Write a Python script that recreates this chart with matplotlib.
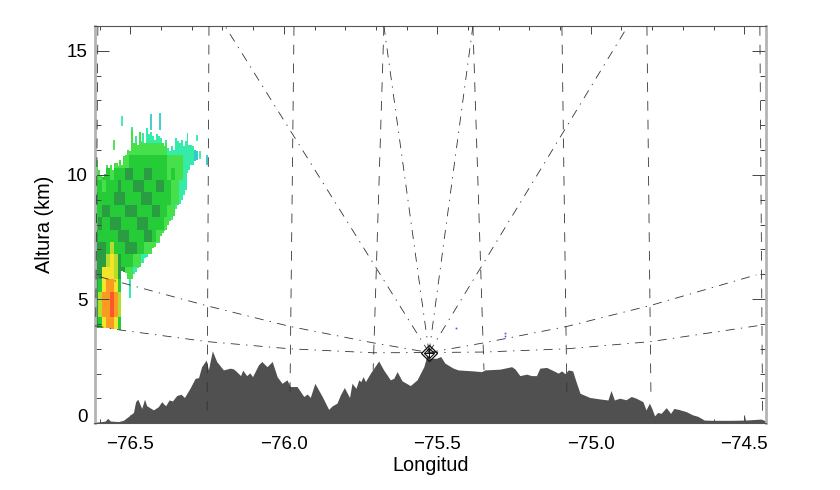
import numpy as np
import matplotlib
matplotlib.use("Agg")
import matplotlib.pyplot as plt
from matplotlib.colors import ListedColormap, BoundaryNorm
from matplotlib.ticker import MultipleLocator

plt.rcParams['font.family'] = ['Liberation Sans', 'DejaVu Sans']
plt.rcParams['lines.scale_dashes'] = False

# terrain profile
terrain_lon = [-76.617, -76.593, -76.582, -76.574, -76.565, -76.539, -76.523, -76.506, -76.490, -76.483,
               -76.476, -76.468, -76.463, -76.454, -76.447, -76.425, -76.409, -76.398, -76.390, -76.385,
               -76.374, -76.363, -76.349, -76.335, -76.324, -76.306, -76.289, -76.278, -76.268, -76.253,
               -76.246, -76.233, -76.219, -76.197, -76.175, -76.164, -76.154, -76.141, -76.134, -76.121,
               -76.111, -76.102, -76.083, -76.072, -76.055, -76.038, -76.022, -76.006, -75.990, -75.979,
               -75.957, -75.935, -75.924, -75.914, -75.899, -75.875, -75.854, -75.843, -75.827, -75.816,
               -75.803, -75.786, -75.778, -75.765, -75.756, -75.749, -75.742, -75.734, -75.718, -75.691,
               -75.675, -75.653, -75.642, -75.631, -75.615, -75.588, -75.566, -75.544, -75.533, -75.524,
               -75.502, -75.489, -75.475, -75.448, -75.432, -75.383, -75.356, -75.345, -75.296, -75.258,
               -75.247, -75.231, -75.209, -75.193, -75.177, -75.166, -75.144, -75.122, -75.106, -75.095,
               -75.084, -75.073, -75.059, -75.048, -75.035, -75.003, -74.970, -74.944, -74.934, -74.923,
               -74.906, -74.885, -74.868, -74.852, -74.830, -74.820, -74.809, -74.801, -74.792, -74.782,
               -74.771, -74.754, -74.740, -74.729, -74.711, -74.689, -74.668, -74.651, -74.630, -74.602,
               -74.543, -74.501, -74.499, -74.496, -74.445, -74.429]
terrain_km = [0.04, 0.07, 0.09, 0.20, 0.09, 0.07, 0.12, 0.28, 0.44, 0.87,
              0.97, 0.74, 0.60, 0.97, 0.71, 0.54, 0.67, 0.87, 0.76, 0.71,
              0.94, 0.90, 1.12, 1.17, 1.04, 1.41, 1.81, 1.84, 2.28, 2.55,
              2.15, 2.92, 2.49, 2.15, 2.22, 2.19, 2.08, 1.92, 2.14, 1.92,
              2.03, 1.88, 2.35, 2.49, 2.28, 2.49, 1.88, 1.61, 1.75, 1.48,
              1.48, 1.08, 1.18, 1.04, 1.61, 1.08, 0.56, 0.70, 0.81, 1.14,
              1.44, 1.04, 1.61, 1.41, 1.75, 1.68, 1.88, 1.68, 2.02, 2.51,
              2.15, 1.75, 1.81, 2.08, 1.71, 1.52, 1.75, 2.28, 2.76, 2.62,
              2.62, 2.69, 2.42, 2.22, 2.15, 2.11, 2.08, 2.15, 2.18, 2.28,
              2.19, 1.92, 1.98, 1.92, 1.92, 2.22, 2.25, 2.12, 2.02, 2.11,
              2.00, 2.15, 2.11, 1.68, 1.21, 1.04, 0.98, 0.94, 1.32, 0.94,
              1.01, 0.95, 1.08, 1.01, 0.87, 0.54, 0.81, 0.60, 0.30, 0.44,
              0.40, 0.63, 0.40, 0.60, 0.55, 0.47, 0.34, 0.28, 0.13, 0.12,
              0.12, 0.13, 0.30, 0.13, 0.17, 0.09]

# radar site
radar_lon = -75.527
radar_km = 2.85

# reflectivity classes per block, top row first
field_rows = [
    [3, 3, 3, 3, 3, 3, 3, 3, 3, 2, 2, 2, 2, 2, 2, 2, 2, 2, 2, 2, 2, 2, 2, 2, 2, 2, 1],
    [3, 3, 3, 3, 3, 3, 3, 3, 3, 3, 2, 3, 2, 2, 2, 2, 2, 2, 2, 2, 2, 2, 2, 2, 2, 2, 1],
    [3, 3, 3, 3, 3, 3, 3, 3, 3, 3, 3, 3, 3, 3, 3, 3, 3, 3, 3, 2, 2, 2, 2, 2, 2, 2, 1],
    [3, 3, 3, 3, 3, 3, 3, 3, 3, 4, 4, 4, 4, 4, 4, 4, 4, 4, 4, 3, 3, 3, 3, 2, 2, 2, 1],
    [3, 3, 4, 4, 3, 4, 4, 4, 5, 5, 4, 4, 4, 5, 5, 4, 4, 4, 4, 3, 4, 3, 3, 2, 2, 2, 1],
    [4, 4, 3, 4, 4, 4, 5, 4, 4, 4, 5, 5, 5, 4, 4, 4, 5, 5, 4, 4, 3, 3, 2, 2, 2, 2, 1],
    [5, 4, 4, 4, 4, 5, 5, 5, 4, 4, 4, 4, 5, 5, 5, 4, 4, 4, 4, 4, 3, 3, 2, 2, 2, 2, 1],
    [4, 4, 5, 5, 4, 4, 4, 4, 5, 5, 5, 4, 4, 4, 4, 5, 5, 4, 4, 3, 3, 2, 2, 2, 2, 2, 1],
    [4, 5, 4, 4, 5, 5, 5, 4, 4, 4, 4, 5, 5, 5, 4, 4, 4, 4, 3, 3, 2, 2, 2, 2, 2, 2, 1],
    [5, 4, 4, 4, 4, 4, 5, 5, 5, 4, 4, 4, 4, 5, 5, 4, 3, 3, 2, 2, 2, 2, 2, 2, 2, 2, 1],
    [5, 5, 5, 4, 6, 4, 4, 4, 5, 5, 5, 4, 4, 3, 3, 3, 2, 2, 2, 2, 2, 2, 2, 2, 2, 2, 1],
    [5, 5, 5, 6, 7, 6, 5, 4, 4, 4, 3, 3, 2, 2, 2, 2, 2, 2, 2, 2, 2, 2, 2, 2, 2, 2, 1],
    [5, 5, 7, 7, 7, 6, 5, 5, 3, 3, 2, 2, 2, 2, 2, 2, 2, 2, 2, 2, 2, 2, 2, 2, 2, 2, 1],
    [5, 4, 7, 8, 8, 7, 4, 2, 2, 2, 2, 2, 2, 2, 2, 2, 2, 2, 2, 2, 2, 2, 2, 2, 2, 2, 1],
    [5, 6, 8, 8, 9, 8, 6, 2, 2, 2, 2, 2, 2, 2, 2, 2, 2, 2, 2, 2, 2, 2, 2, 2, 2, 2, 1],
    [5, 6, 8, 8, 9, 8, 6, 2, 2, 2, 2, 2, 2, 2, 2, 2, 2, 2, 2, 2, 2, 2, 2, 2, 2, 2, 1],
    [5, 4, 7, 8, 8, 7, 4, 2, 2, 2, 2, 2, 2, 2, 2, 2, 2, 2, 2, 2, 2, 2, 2, 2, 2, 2, 1],
]
field_colors = ['#ffffff', '#35c8cc', '#35eba8', '#45e04a', '#25cc38', '#2a9c42',
                '#b5dd2a', '#f2e52a', '#fb9a22', '#f9582a']
field_lon_start = -76.617
field_lon_step = 0.0125
field_km_top = 12.3
field_km_step = 0.5

# top and bottom of the echo in each narrow column
echo_lon_step = 0.00625
echo_top_km = [10.15, 10.62, 10.19, 10.01, 9.88, 10.05, 10.42, 10.28, 10.38, 10.22, 10.48, 10.48, 10.35, 10.59,
               10.42, 10.73, 10.82, 11.02, 10.95, 11.96, 11.29, 11.56, 11.22, 11.76, 11.36, 11.69, 11.29, 11.90,
               11.63, 11.76, 11.56, 11.42, 11.63, 11.56, 11.49, 11.29, 11.16, 11.42, 11.09, 10.95, 11.16, 11.02,
               11.49, 11.36, 11.29, 11.42, 11.16, 11.36, 11.69, 11.22, 11.22, 11.16, 11.02, 10.95]
echo_bottom_km = [3.87, 3.87, 3.86, 3.86, 3.84, 3.84, 3.83, 3.83, 3.82, 3.82, 3.80, 3.79, 3.78, 3.76,
                  6.16, 6.12, 6.05, 5.78, 5.04, 5.78, 6.02, 6.12, 6.25, 6.32, 6.45, 6.45, 6.65, 6.72,
                  6.79, 6.79, 7.06, 7.12, 7.26, 7.26, 7.53, 7.66, 7.77, 7.80, 8.00, 8.13, 8.20, 8.33,
                  8.67, 8.80, 8.87, 9.01, 9.21, 9.41, 10.08, 10.22, 10.42, 10.42, 10.55, 10.62]

# isolated thin echoes above the main body
spike_lon = [-76.552, -76.526, -76.434, -76.405, -76.284, -76.273, -76.251]
spike_low = [11.02, 11.96, 11.83, 11.83, 11.36, 10.65, 10.42]
spike_high = [11.42, 12.37, 12.47, 12.50, 11.63, 10.95, 10.82]
spike_class = [3, 2, 1, 1, 2, 2, 1]

# small blue echoes east of the radar
speck_lon = [-75.44, -75.28, -75.28]
speck_km = [3.84, 3.50, 3.62]

# constant elevation rays, straight up to the top of the plot
ray_top_lon = [-76.192, -75.674, -75.384, -74.879]
ray_top_km = [16, 16, 16, 16]

# curved low elevation rays
low_west_lon = [-76.617, -76.535, -76.250, -75.980, -75.709, -75.527]
low_west_km = [3.93, 3.76, 3.29, 3.00, 2.84, 2.85]
high_west_lon = [-76.600, -76.250, -75.980, -75.709, -75.527]
high_west_km = [5.90, 4.73, 3.90, 3.24, 2.85]
low_east_lon = [-75.527, -75.348, -75.078, -74.804, -74.440]
low_east_km = [2.85, 2.87, 3.00, 3.29, 3.96]
high_east_lon = [-75.527, -75.348, -75.078, -74.804, -74.460]
high_east_km = [2.85, 3.24, 3.90, 4.75, 5.98]

# nearly vertical dashed lines
dash_top_lon = [-76.606, -76.244, -75.967, -75.674, -75.384, -75.094, -74.817, -74.449]
dash_end_lon = [-76.613, -76.250, -75.980, -75.709, -75.348, -75.078, -74.804, -74.440]
dash_end_km = [3.90, 0.45, 1.27, 2.15, 2.15, 1.27, 1.27, 0.15]

fig = plt.figure(figsize=(8.4, 4.9), dpi=100)
ax = fig.add_axes([94.5 / 840, 1 - 423.3 / 490, (766 - 94.5) / 840, (423.3 - 26) / 490])

ax.fill_between(terrain_lon, 0, terrain_km, color='#505050', lw=0, zorder=2)

# radar field: blocks looked up on narrow columns, cut to the echo top and bottom
n_col = len(echo_top_km)
fine_km_step = 0.05
fine_km = np.arange(3.7, 12.3, fine_km_step)
field = np.zeros((len(fine_km), n_col))
for j in range(n_col):
    lon = field_lon_start + (j + 0.5) * echo_lon_step
    col = int((lon - field_lon_start) / field_lon_step)
    for i, km in enumerate(fine_km):
        if echo_bottom_km[j] <= km + fine_km_step / 2 <= echo_top_km[j]:
            row = int((field_km_top - km - fine_km_step / 2) / field_km_step)
            row = min(row, len(field_rows) - 1)
            field[i, j] = field_rows[row][col]
lon_edges = field_lon_start + echo_lon_step * np.arange(n_col + 1)
km_edges = np.append(fine_km, fine_km[-1] + fine_km_step)
cmap = ListedColormap(field_colors)
norm = BoundaryNorm(np.arange(-0.5, 10.5), cmap.N)
ax.pcolormesh(lon_edges, km_edges, np.ma.masked_equal(field, 0), cmap=cmap, norm=norm,
              zorder=1, rasterized=True)
ax.vlines(spike_lon, spike_low, spike_high, colors=[field_colors[c] for c in spike_class], lw=1.3, zorder=1)

ax.plot(speck_lon, speck_km, ls='none', marker='s', ms=1.2, mew=0, color='#5050e0', zorder=1)

# rays
dashdot = (0, (6.5, 4.5, 1, 4.5))
for lon, km in zip(ray_top_lon, ray_top_km):
    ax.plot([radar_lon, lon], [radar_km, km], color='#333333', lw=0.6, ls=dashdot, zorder=3)
for xs, ys in [(low_west_lon, low_west_km), (high_west_lon, high_west_km),
               (low_east_lon, low_east_km), (high_east_lon, high_east_km)]:
    ax.plot(xs, ys, color='#333333', lw=0.6, ls=dashdot, zorder=3)
for x0, x1, y1 in zip(dash_top_lon, dash_end_lon, dash_end_km):
    ax.plot([x0, x1], [16, y1], color='#333333', lw=0.6, ls=(0, (7, 6.5)), zorder=3)

# radar marker
ax.plot(radar_lon, radar_km, marker='D', ms=8, mfc='none', mec='#111111', mew=0.9, zorder=4)
ax.plot(radar_lon, radar_km, marker='D', ms=5, mfc='none', mec='#111111', mew=0.8, zorder=4)
ax.plot(radar_lon, radar_km, marker='+', ms=7.5, mec='#111111', mew=0.7, zorder=4)

ax.set_xlim(-76.617, -74.429)
ax.set_ylim(0, 16)
ax.xaxis.set_major_locator(MultipleLocator(0.5))
ax.xaxis.set_minor_locator(MultipleLocator(0.1))
ax.yaxis.set_major_locator(MultipleLocator(5))
ax.yaxis.set_minor_locator(MultipleLocator(1))
ax.xaxis.set_major_formatter(lambda v, pos: f"\u2212{abs(v):.1f}")
# the zero label sits above its tick, so it is placed on its own below
ax.yaxis.set_major_formatter(lambda v, pos: "" if abs(v) < 1e-6 else f"{v:.0f}")

ax.tick_params(axis='x', which='major', direction='in', top=True, length=6, width=0.7,
               color='#444444', labelsize=13.5, pad=9)
ax.tick_params(axis='x', which='minor', direction='in', top=True, length=3, width=0.7, color='#444444')
ax.tick_params(axis='y', which='major', direction='in', right=True, length=10, width=0.7,
               color='#444444', labelsize=13.5, pad=5)
ax.tick_params(axis='y', which='minor', direction='in', right=True, length=4, width=0.7, color='#444444')

ax.annotate("0", xy=(0, 0), xycoords=ax.get_yaxis_transform(), xytext=(-5, 4.5), textcoords='offset points',
            ha='right', va='center', fontsize=13.5)

for side in ['left', 'right']:
    ax.spines[side].set_color('#b4b4b4')
    ax.spines[side].set_linewidth(2)
for side in ['top', 'bottom']:
    ax.spines[side].set_color('#555555')
    ax.spines[side].set_linewidth(0.8)

ax.set_xlabel("Longitud", fontsize=14.3, labelpad=2)
ax.set_ylabel("Altura (km)", fontsize=14.3, labelpad=9)

fig.savefig("out.png", dpi=100)
